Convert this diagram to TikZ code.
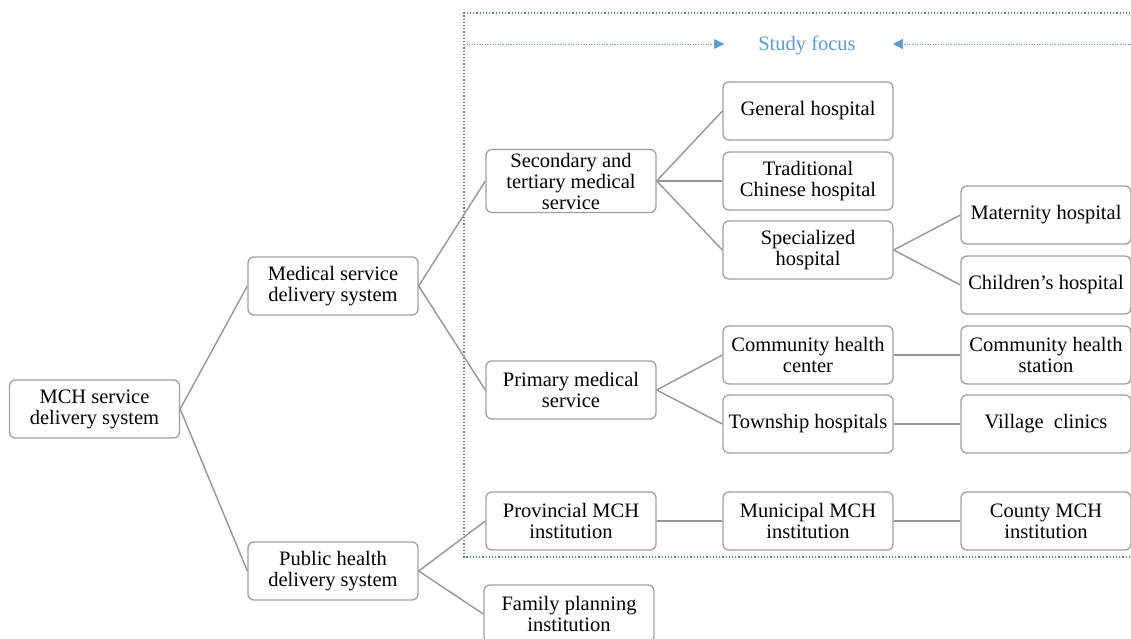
\documentclass[tikz,border=0pt]{standalone}
\usepackage{fontspec}
\setmainfont{Liberation Serif}
\usetikzlibrary{positioning,arrows.meta}
\definecolor{boxgray}{RGB}{160,160,160}
\definecolor{linegray}{RGB}{150,150,150}
\definecolor{focusblue}{RGB}{79,129,189}
\definecolor{textblue}{RGB}{91,155,213}
\tikzset{
    box/.style={draw=boxgray, line width=1.3pt, rounded corners=6pt, fill=white,
        minimum width=170pt, minimum height=58pt, align=center,
        font=\fontsize{20.5}{21}\selectfont},
    link/.style={draw=linegray, line width=1.4pt},
    focus/.style={draw=focusblue, line width=1.2pt, dotted}
}

\begin{document}
\begin{tikzpicture}[x=1pt,y=-1pt]
\useasboundingbox (0,0) rectangle (1131,639);

% study focus frame
\draw[focus] (1140,13) -- (464,13) -- (464,557) -- (1140,557);
\node[text=textblue, font=\fontsize{20.5}{21}\selectfont] (focus) at (807,45) {Study focus};
\coordinate (fl) at (464,44);
\coordinate (fr) at (1131,44);
\draw[textblue, line width=0.6pt, dotted, -{Triangle[length=10pt,width=10pt]}] (fl) -- (724,44);
\draw[textblue, line width=0.6pt, dotted, -{Triangle[length=10pt,width=10pt]}] (fr) -- (893,44);

\node[box] (mch) at (94.5,409) {MCH service\\delivery system};

\node[box] (med) at (333,286) {Medical service\\delivery system};
\node[box] (pub) at (333,571) {Public health\\delivery system};

\node[box] (sec) at (571,181) {Secondary and\\tertiary medical\\service};
\node[box] (prim) at (571,390) {Primary medical\\service};
\node[box] (prov) at (571,521) {Provincial MCH\\institution};
\node[box] (fam) at (569,614) {Family planning\\institution};

\node[box] (gen) at (808,111) {General hospital};
\node[box] (tcm) at (808,181) {Traditional\\Chinese hospital};
\node[box] (spec) at (808,250) {Specialized\\hospital};
\node[box] (chc) at (808,355) {Community health\\center};
\node[box] (town) at (808,424) {Township hospitals};
\node[box] (muni) at (808,521) {Municipal MCH\\institution};

\node[box] (mat) at (1046,215) {Maternity hospital};
\node[box] (child) at (1046,285) {Children’s hospital};
\node[box] (chs) at (1046,355) {Community health\\station};
\node[box] (vill) at (1046,424) {Village\ \ clinics};
\node[box] (county) at (1046,521) {County MCH\\institution};

% tree links
\draw[link] (mch.east) -- (med.west);
\draw[link] (mch.east) -- (pub.west);
\draw[link] (med.east) -- (sec.west);
\draw[link] (med.east) -- (prim.west);
\draw[link] (pub.east) -- (prov.west);
\draw[link] (pub.east) -- (fam.west);
\draw[link] (sec.east) -- (gen.west);
\draw[link] (sec.east) -- (tcm.west);
\draw[link] (sec.east) -- (spec.west);
\draw[link] (spec.east) -- (mat.west);
\draw[link] (spec.east) -- (child.west);
\draw[link] (prim.east) -- (chc.west);
\draw[link] (prim.east) -- (town.west);
\draw[link] (chc) -- (chs);
\draw[link] (town) -- (vill);
\draw[link] (prov) -- (muni);
\draw[link] (muni) -- (county);
\end{tikzpicture}
\end{document}
